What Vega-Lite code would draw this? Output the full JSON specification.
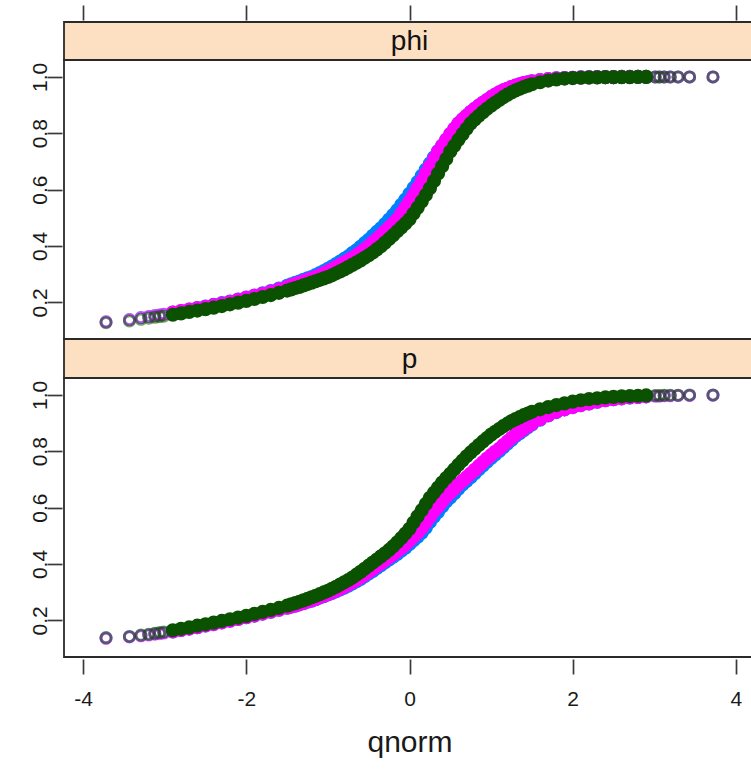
{
"$schema": "https://vega.github.io/schema/vega-lite/v6.json",
"padding": {"left": 28, "top": 3, "right": 0, "bottom": 0},
"spacing": 0,
"bounds": "flush",
"config": {
 "font": "Liberation Sans",
 "view": {"stroke": "#2a2a2a", "strokeWidth": 1.8},
 "axis": {"grid": false, "domain": false, "tickColor": "#3a3a3a", "tickWidth": 1.7, "tickSize": 15, "offset": 2, "labelColor": "#1a1a1a", "labelFontSize": 21, "labelFont": "Liberation Sans", "titleFont": "Liberation Sans", "titleFontWeight": "normal", "titleColor": "#1a1a1a"}
},
"resolve": {"scale": {"x": "independent", "y": "independent"}},
"datasets": {
"phi": [
{"g":1,"q":-3.719,"v":0.131},{"g":1,"q":-3.432,"v":0.139},{"g":1,"q":-3.291,"v":0.146},{"g":1,"q":-3.195,"v":0.15},{"g":1,"q":-3.121,"v":0.153},{"g":1,"q":-3.062,"v":0.155},{"g":1,"q":-3.011,"v":0.158},
{"g":1,"q":-2.9,"v":0.164},{"g":1,"q":-2.8,"v":0.169},{"g":1,"q":-2.7,"v":0.174},{"g":1,"q":-2.6,"v":0.18},{"g":1,"q":-2.5,"v":0.185},{"g":1,"q":-2.4,"v":0.191},{"g":1,"q":-2.3,"v":0.197},{"g":1,"q":-2.2,"v":0.203},{"g":1,"q":-2.1,"v":0.21},{"g":1,"q":-2.0,"v":0.217},{"g":1,"q":-1.9,"v":0.224},{"g":1,"q":-1.8,"v":0.232},{"g":1,"q":-1.7,"v":0.24},{"g":1,"q":-1.6,"v":0.249},
{"g":1,"q":-1.5,"v":0.259},{"g":1,"q":-1.45,"v":0.264},{"g":1,"q":-1.4,"v":0.269},{"g":1,"q":-1.35,"v":0.274},{"g":1,"q":-1.3,"v":0.28},{"g":1,"q":-1.25,"v":0.285},{"g":1,"q":-1.2,"v":0.29},{"g":1,"q":-1.15,"v":0.297},{"g":1,"q":-1.1,"v":0.304},{"g":1,"q":-1.05,"v":0.311},{"g":1,"q":-1.0,"v":0.319},{"g":1,"q":-0.95,"v":0.327},{"g":1,"q":-0.9,"v":0.336},{"g":1,"q":-0.85,"v":0.345},{"g":1,"q":-0.8,"v":0.354},{"g":1,"q":-0.75,"v":0.363},{"g":1,"q":-0.7,"v":0.375},{"g":1,"q":-0.65,"v":0.385},{"g":1,"q":-0.6,"v":0.397},{"g":1,"q":-0.55,"v":0.41},{"g":1,"q":-0.5,"v":0.422},{"g":1,"q":-0.45,"v":0.436},{"g":1,"q":-0.4,"v":0.45},{"g":1,"q":-0.35,"v":0.463},{"g":1,"q":-0.3,"v":0.478},{"g":1,"q":-0.25,"v":0.494},{"g":1,"q":-0.2,"v":0.51},{"g":1,"q":-0.15,"v":0.527},{"g":1,"q":-0.1,"v":0.546},{"g":1,"q":-0.05,"v":0.565},{"g":1,"q":0,"v":0.585},{"g":1,"q":0.05,"v":0.606},{"g":1,"q":0.1,"v":0.627},{"g":1,"q":0.15,"v":0.649},{"g":1,"q":0.2,"v":0.671},{"g":1,"q":0.25,"v":0.693},{"g":1,"q":0.3,"v":0.715},{"g":1,"q":0.35,"v":0.737},{"g":1,"q":0.4,"v":0.756},{"g":1,"q":0.45,"v":0.777},{"g":1,"q":0.5,"v":0.797},{"g":1,"q":0.55,"v":0.816},{"g":1,"q":0.6,"v":0.835},{"g":1,"q":0.65,"v":0.849},{"g":1,"q":0.7,"v":0.862},{"g":1,"q":0.75,"v":0.875},{"g":1,"q":0.8,"v":0.887},{"g":1,"q":0.85,"v":0.898},{"g":1,"q":0.9,"v":0.908},{"g":1,"q":0.95,"v":0.918},{"g":1,"q":1.0,"v":0.928},{"g":1,"q":1.05,"v":0.937},{"g":1,"q":1.1,"v":0.945},{"g":1,"q":1.15,"v":0.952},{"g":1,"q":1.2,"v":0.958},{"g":1,"q":1.25,"v":0.964},{"g":1,"q":1.3,"v":0.969},{"g":1,"q":1.35,"v":0.974},{"g":1,"q":1.4,"v":0.978},{"g":1,"q":1.45,"v":0.981},{"g":1,"q":1.5,"v":0.984},
{"g":1,"q":1.6,"v":0.989},{"g":1,"q":1.7,"v":0.992},{"g":1,"q":1.8,"v":0.995},{"g":1,"q":1.9,"v":0.996},{"g":1,"q":2.0,"v":0.997},{"g":1,"q":2.1,"v":0.998},{"g":1,"q":2.2,"v":0.998},{"g":1,"q":2.3,"v":0.999},{"g":1,"q":2.4,"v":0.999},{"g":1,"q":2.5,"v":0.999},{"g":1,"q":2.6,"v":1},{"g":1,"q":2.7,"v":1},{"g":1,"q":2.8,"v":1},{"g":1,"q":2.9,"v":1},
{"g":1,"q":3.011,"v":1},{"g":1,"q":3.062,"v":1},{"g":1,"q":3.121,"v":1},{"g":1,"q":3.195,"v":1},{"g":1,"q":3.291,"v":1},{"g":1,"q":3.432,"v":1},{"g":1,"q":3.719,"v":1},
{"g":2,"q":-3.719,"v":0.131},{"g":2,"q":-3.432,"v":0.139},{"g":2,"q":-3.291,"v":0.146},{"g":2,"q":-3.195,"v":0.15},{"g":2,"q":-3.121,"v":0.153},{"g":2,"q":-3.062,"v":0.155},{"g":2,"q":-3.011,"v":0.158},
{"g":2,"q":-2.9,"v":0.164},{"g":2,"q":-2.8,"v":0.169},{"g":2,"q":-2.7,"v":0.174},{"g":2,"q":-2.6,"v":0.179},{"g":2,"q":-2.5,"v":0.184},{"g":2,"q":-2.4,"v":0.19},{"g":2,"q":-2.3,"v":0.196},{"g":2,"q":-2.2,"v":0.202},{"g":2,"q":-2.1,"v":0.209},{"g":2,"q":-2.0,"v":0.216},{"g":2,"q":-1.9,"v":0.223},{"g":2,"q":-1.8,"v":0.23},{"g":2,"q":-1.7,"v":0.238},{"g":2,"q":-1.6,"v":0.246},
{"g":2,"q":-1.5,"v":0.255},{"g":2,"q":-1.45,"v":0.26},{"g":2,"q":-1.4,"v":0.265},{"g":2,"q":-1.35,"v":0.27},{"g":2,"q":-1.3,"v":0.275},{"g":2,"q":-1.25,"v":0.28},{"g":2,"q":-1.2,"v":0.285},{"g":2,"q":-1.15,"v":0.29},{"g":2,"q":-1.1,"v":0.296},{"g":2,"q":-1.05,"v":0.303},{"g":2,"q":-1.0,"v":0.31},{"g":2,"q":-0.95,"v":0.317},{"g":2,"q":-0.9,"v":0.325},{"g":2,"q":-0.85,"v":0.333},{"g":2,"q":-0.8,"v":0.341},{"g":2,"q":-0.75,"v":0.349},{"g":2,"q":-0.7,"v":0.358},{"g":2,"q":-0.65,"v":0.367},{"g":2,"q":-0.6,"v":0.377},{"g":2,"q":-0.55,"v":0.388},{"g":2,"q":-0.5,"v":0.399},{"g":2,"q":-0.45,"v":0.412},{"g":2,"q":-0.4,"v":0.425},{"g":2,"q":-0.35,"v":0.438},{"g":2,"q":-0.3,"v":0.452},{"g":2,"q":-0.25,"v":0.466},{"g":2,"q":-0.2,"v":0.48},{"g":2,"q":-0.15,"v":0.495},{"g":2,"q":-0.1,"v":0.515},{"g":2,"q":-0.05,"v":0.536},{"g":2,"q":0,"v":0.558},{"g":2,"q":0.05,"v":0.581},{"g":2,"q":0.1,"v":0.605},{"g":2,"q":0.15,"v":0.631},{"g":2,"q":0.2,"v":0.657},{"g":2,"q":0.25,"v":0.683},{"g":2,"q":0.3,"v":0.709},{"g":2,"q":0.35,"v":0.735},{"g":2,"q":0.4,"v":0.756},{"g":2,"q":0.45,"v":0.777},{"g":2,"q":0.5,"v":0.797},{"g":2,"q":0.55,"v":0.816},{"g":2,"q":0.6,"v":0.835},{"g":2,"q":0.65,"v":0.849},{"g":2,"q":0.7,"v":0.862},{"g":2,"q":0.75,"v":0.875},{"g":2,"q":0.8,"v":0.887},{"g":2,"q":0.85,"v":0.898},{"g":2,"q":0.9,"v":0.908},{"g":2,"q":0.95,"v":0.918},{"g":2,"q":1.0,"v":0.928},{"g":2,"q":1.05,"v":0.937},{"g":2,"q":1.1,"v":0.945},{"g":2,"q":1.15,"v":0.952},{"g":2,"q":1.2,"v":0.958},{"g":2,"q":1.25,"v":0.964},{"g":2,"q":1.3,"v":0.969},{"g":2,"q":1.35,"v":0.974},{"g":2,"q":1.4,"v":0.978},{"g":2,"q":1.45,"v":0.981},{"g":2,"q":1.5,"v":0.984},
{"g":2,"q":1.6,"v":0.989},{"g":2,"q":1.7,"v":0.992},{"g":2,"q":1.8,"v":0.995},{"g":2,"q":1.9,"v":0.996},{"g":2,"q":2.0,"v":0.997},{"g":2,"q":2.1,"v":0.998},{"g":2,"q":2.2,"v":0.998},{"g":2,"q":2.3,"v":0.999},{"g":2,"q":2.4,"v":0.999},{"g":2,"q":2.5,"v":0.999},{"g":2,"q":2.6,"v":1},{"g":2,"q":2.7,"v":1},{"g":2,"q":2.8,"v":1},{"g":2,"q":2.9,"v":1},
{"g":2,"q":3.011,"v":1},{"g":2,"q":3.062,"v":1},{"g":2,"q":3.121,"v":1},{"g":2,"q":3.195,"v":1},{"g":2,"q":3.291,"v":1},{"g":2,"q":3.432,"v":1},{"g":2,"q":3.719,"v":1},
{"g":3,"q":-3.719,"v":0.128},{"g":3,"q":-3.432,"v":0.134},{"g":3,"q":-3.291,"v":0.14},{"g":3,"q":-3.195,"v":0.144},{"g":3,"q":-3.121,"v":0.147},{"g":3,"q":-3.062,"v":0.149},{"g":3,"q":-3.011,"v":0.151},
{"g":3,"q":-2.9,"v":0.156},{"g":3,"q":-2.8,"v":0.161},{"g":3,"q":-2.7,"v":0.166},{"g":3,"q":-2.6,"v":0.171},{"g":3,"q":-2.5,"v":0.176},{"g":3,"q":-2.4,"v":0.181},{"g":3,"q":-2.3,"v":0.187},{"g":3,"q":-2.2,"v":0.193},{"g":3,"q":-2.1,"v":0.199},{"g":3,"q":-2.0,"v":0.205},{"g":3,"q":-1.9,"v":0.212},{"g":3,"q":-1.8,"v":0.219},{"g":3,"q":-1.7,"v":0.226},{"g":3,"q":-1.6,"v":0.234},
{"g":3,"q":-1.5,"v":0.242},{"g":3,"q":-1.45,"v":0.246},{"g":3,"q":-1.4,"v":0.251},{"g":3,"q":-1.35,"v":0.255},{"g":3,"q":-1.3,"v":0.26},{"g":3,"q":-1.25,"v":0.265},{"g":3,"q":-1.2,"v":0.27},{"g":3,"q":-1.15,"v":0.275},{"g":3,"q":-1.1,"v":0.28},{"g":3,"q":-1.05,"v":0.285},{"g":3,"q":-1.0,"v":0.29},{"g":3,"q":-0.95,"v":0.296},{"g":3,"q":-0.9,"v":0.303},{"g":3,"q":-0.85,"v":0.31},{"g":3,"q":-0.8,"v":0.317},{"g":3,"q":-0.75,"v":0.325},{"g":3,"q":-0.7,"v":0.333},{"g":3,"q":-0.65,"v":0.341},{"g":3,"q":-0.6,"v":0.349},{"g":3,"q":-0.55,"v":0.358},{"g":3,"q":-0.5,"v":0.367},{"g":3,"q":-0.45,"v":0.377},{"g":3,"q":-0.4,"v":0.388},{"g":3,"q":-0.35,"v":0.399},{"g":3,"q":-0.3,"v":0.412},{"g":3,"q":-0.25,"v":0.425},{"g":3,"q":-0.2,"v":0.438},{"g":3,"q":-0.15,"v":0.452},{"g":3,"q":-0.1,"v":0.466},{"g":3,"q":-0.05,"v":0.48},{"g":3,"q":0,"v":0.495},{"g":3,"q":0.05,"v":0.515},{"g":3,"q":0.1,"v":0.536},{"g":3,"q":0.15,"v":0.558},{"g":3,"q":0.2,"v":0.581},{"g":3,"q":0.25,"v":0.605},{"g":3,"q":0.3,"v":0.631},{"g":3,"q":0.35,"v":0.657},{"g":3,"q":0.4,"v":0.683},{"g":3,"q":0.45,"v":0.709},{"g":3,"q":0.5,"v":0.735},{"g":3,"q":0.55,"v":0.756},{"g":3,"q":0.6,"v":0.777},{"g":3,"q":0.65,"v":0.797},{"g":3,"q":0.7,"v":0.816},{"g":3,"q":0.75,"v":0.835},{"g":3,"q":0.8,"v":0.849},{"g":3,"q":0.85,"v":0.862},{"g":3,"q":0.9,"v":0.875},{"g":3,"q":0.95,"v":0.887},{"g":3,"q":1.0,"v":0.898},{"g":3,"q":1.05,"v":0.908},{"g":3,"q":1.1,"v":0.918},{"g":3,"q":1.15,"v":0.928},{"g":3,"q":1.2,"v":0.937},{"g":3,"q":1.25,"v":0.945},{"g":3,"q":1.3,"v":0.952},{"g":3,"q":1.35,"v":0.958},{"g":3,"q":1.4,"v":0.964},{"g":3,"q":1.45,"v":0.969},{"g":3,"q":1.5,"v":0.974},
{"g":3,"q":1.6,"v":0.981},{"g":3,"q":1.7,"v":0.987},{"g":3,"q":1.8,"v":0.991},{"g":3,"q":1.9,"v":0.994},{"g":3,"q":2.0,"v":0.996},{"g":3,"q":2.1,"v":0.997},{"g":3,"q":2.2,"v":0.998},{"g":3,"q":2.3,"v":0.998},{"g":3,"q":2.4,"v":0.999},{"g":3,"q":2.5,"v":0.999},{"g":3,"q":2.6,"v":0.999},{"g":3,"q":2.7,"v":0.999},{"g":3,"q":2.8,"v":1},{"g":3,"q":2.9,"v":1},
{"g":3,"q":3.011,"v":1},{"g":3,"q":3.062,"v":1},{"g":3,"q":3.121,"v":1},{"g":3,"q":3.195,"v":1},{"g":3,"q":3.291,"v":1},{"g":3,"q":3.432,"v":1},{"g":3,"q":3.719,"v":1}
],
"p": [
{"g":1,"q":-3.719,"v":0.137},{"g":1,"q":-3.432,"v":0.142},{"g":1,"q":-3.291,"v":0.146},{"g":1,"q":-3.195,"v":0.149},{"g":1,"q":-3.121,"v":0.152},{"g":1,"q":-3.062,"v":0.154},{"g":1,"q":-3.011,"v":0.156},
{"g":1,"q":-2.9,"v":0.161},{"g":1,"q":-2.8,"v":0.166},{"g":1,"q":-2.7,"v":0.171},{"g":1,"q":-2.6,"v":0.176},{"g":1,"q":-2.5,"v":0.182},{"g":1,"q":-2.4,"v":0.187},{"g":1,"q":-2.3,"v":0.193},{"g":1,"q":-2.2,"v":0.199},{"g":1,"q":-2.1,"v":0.205},{"g":1,"q":-2.0,"v":0.211},{"g":1,"q":-1.9,"v":0.217},{"g":1,"q":-1.8,"v":0.224},{"g":1,"q":-1.7,"v":0.231},{"g":1,"q":-1.6,"v":0.238},
{"g":1,"q":-1.5,"v":0.245},{"g":1,"q":-1.45,"v":0.249},{"g":1,"q":-1.4,"v":0.252},{"g":1,"q":-1.35,"v":0.257},{"g":1,"q":-1.3,"v":0.261},{"g":1,"q":-1.25,"v":0.266},{"g":1,"q":-1.2,"v":0.27},{"g":1,"q":-1.15,"v":0.275},{"g":1,"q":-1.1,"v":0.281},{"g":1,"q":-1.05,"v":0.286},{"g":1,"q":-1.0,"v":0.292},{"g":1,"q":-0.95,"v":0.297},{"g":1,"q":-0.9,"v":0.303},{"g":1,"q":-0.85,"v":0.31},{"g":1,"q":-0.8,"v":0.316},{"g":1,"q":-0.75,"v":0.323},{"g":1,"q":-0.7,"v":0.331},{"g":1,"q":-0.65,"v":0.339},{"g":1,"q":-0.6,"v":0.347},{"g":1,"q":-0.55,"v":0.357},{"g":1,"q":-0.5,"v":0.366},{"g":1,"q":-0.45,"v":0.375},{"g":1,"q":-0.4,"v":0.386},{"g":1,"q":-0.35,"v":0.396},{"g":1,"q":-0.3,"v":0.406},{"g":1,"q":-0.25,"v":0.416},{"g":1,"q":-0.2,"v":0.426},{"g":1,"q":-0.15,"v":0.436},{"g":1,"q":-0.1,"v":0.447},{"g":1,"q":-0.05,"v":0.458},{"g":1,"q":0,"v":0.471},{"g":1,"q":0.05,"v":0.484},{"g":1,"q":0.1,"v":0.497},{"g":1,"q":0.15,"v":0.511},{"g":1,"q":0.2,"v":0.529},{"g":1,"q":0.25,"v":0.549},{"g":1,"q":0.3,"v":0.568},{"g":1,"q":0.35,"v":0.585},{"g":1,"q":0.4,"v":0.604},{"g":1,"q":0.45,"v":0.622},{"g":1,"q":0.5,"v":0.636},{"g":1,"q":0.55,"v":0.651},{"g":1,"q":0.6,"v":0.667},{"g":1,"q":0.65,"v":0.682},{"g":1,"q":0.7,"v":0.695},{"g":1,"q":0.75,"v":0.708},{"g":1,"q":0.8,"v":0.722},{"g":1,"q":0.85,"v":0.736},{"g":1,"q":0.9,"v":0.75},{"g":1,"q":0.95,"v":0.763},{"g":1,"q":1.0,"v":0.776},{"g":1,"q":1.05,"v":0.789},{"g":1,"q":1.1,"v":0.801},{"g":1,"q":1.15,"v":0.814},{"g":1,"q":1.2,"v":0.828},{"g":1,"q":1.25,"v":0.84},{"g":1,"q":1.3,"v":0.854},{"g":1,"q":1.35,"v":0.864},{"g":1,"q":1.4,"v":0.875},{"g":1,"q":1.45,"v":0.885},{"g":1,"q":1.5,"v":0.895},
{"g":1,"q":1.6,"v":0.912},{"g":1,"q":1.7,"v":0.927},{"g":1,"q":1.8,"v":0.939},{"g":1,"q":1.9,"v":0.949},{"g":1,"q":2.0,"v":0.957},{"g":1,"q":2.1,"v":0.964},{"g":1,"q":2.2,"v":0.97},{"g":1,"q":2.3,"v":0.976},{"g":1,"q":2.4,"v":0.981},{"g":1,"q":2.5,"v":0.985},{"g":1,"q":2.6,"v":0.988},{"g":1,"q":2.7,"v":0.991},{"g":1,"q":2.8,"v":0.993},{"g":1,"q":2.9,"v":0.995},
{"g":1,"q":3.011,"v":0.996},{"g":1,"q":3.062,"v":0.996},{"g":1,"q":3.121,"v":0.997},{"g":1,"q":3.195,"v":0.997},{"g":1,"q":3.291,"v":0.998},{"g":1,"q":3.432,"v":0.998},{"g":1,"q":3.719,"v":0.999},
{"g":2,"q":-3.719,"v":0.136},{"g":2,"q":-3.432,"v":0.141},{"g":2,"q":-3.291,"v":0.145},{"g":2,"q":-3.195,"v":0.148},{"g":2,"q":-3.121,"v":0.151},{"g":2,"q":-3.062,"v":0.153},{"g":2,"q":-3.011,"v":0.155},
{"g":2,"q":-2.9,"v":0.161},{"g":2,"q":-2.8,"v":0.166},{"g":2,"q":-2.7,"v":0.171},{"g":2,"q":-2.6,"v":0.176},{"g":2,"q":-2.5,"v":0.182},{"g":2,"q":-2.4,"v":0.187},{"g":2,"q":-2.3,"v":0.193},{"g":2,"q":-2.2,"v":0.199},{"g":2,"q":-2.1,"v":0.205},{"g":2,"q":-2.0,"v":0.211},{"g":2,"q":-1.9,"v":0.217},{"g":2,"q":-1.8,"v":0.224},{"g":2,"q":-1.7,"v":0.231},{"g":2,"q":-1.6,"v":0.238},
{"g":2,"q":-1.5,"v":0.245},{"g":2,"q":-1.45,"v":0.249},{"g":2,"q":-1.4,"v":0.253},{"g":2,"q":-1.35,"v":0.257},{"g":2,"q":-1.3,"v":0.262},{"g":2,"q":-1.25,"v":0.267},{"g":2,"q":-1.2,"v":0.271},{"g":2,"q":-1.15,"v":0.276},{"g":2,"q":-1.1,"v":0.282},{"g":2,"q":-1.05,"v":0.287},{"g":2,"q":-1.0,"v":0.293},{"g":2,"q":-0.95,"v":0.299},{"g":2,"q":-0.9,"v":0.305},{"g":2,"q":-0.85,"v":0.312},{"g":2,"q":-0.8,"v":0.319},{"g":2,"q":-0.75,"v":0.327},{"g":2,"q":-0.7,"v":0.335},{"g":2,"q":-0.65,"v":0.343},{"g":2,"q":-0.6,"v":0.352},{"g":2,"q":-0.55,"v":0.362},{"g":2,"q":-0.5,"v":0.372},{"g":2,"q":-0.45,"v":0.382},{"g":2,"q":-0.4,"v":0.393},{"g":2,"q":-0.35,"v":0.403},{"g":2,"q":-0.3,"v":0.413},{"g":2,"q":-0.25,"v":0.424},{"g":2,"q":-0.2,"v":0.434},{"g":2,"q":-0.15,"v":0.445},{"g":2,"q":-0.1,"v":0.457},{"g":2,"q":-0.05,"v":0.469},{"g":2,"q":0,"v":0.483},{"g":2,"q":0.05,"v":0.497},{"g":2,"q":0.1,"v":0.511},{"g":2,"q":0.15,"v":0.527},{"g":2,"q":0.2,"v":0.547},{"g":2,"q":0.25,"v":0.567},{"g":2,"q":0.3,"v":0.587},{"g":2,"q":0.35,"v":0.604},{"g":2,"q":0.4,"v":0.622},{"g":2,"q":0.45,"v":0.639},{"g":2,"q":0.5,"v":0.653},{"g":2,"q":0.55,"v":0.667},{"g":2,"q":0.6,"v":0.682},{"g":2,"q":0.65,"v":0.695},{"g":2,"q":0.7,"v":0.708},{"g":2,"q":0.75,"v":0.721},{"g":2,"q":0.8,"v":0.734},{"g":2,"q":0.85,"v":0.748},{"g":2,"q":0.9,"v":0.761},{"g":2,"q":0.95,"v":0.774},{"g":2,"q":1.0,"v":0.786},{"g":2,"q":1.05,"v":0.798},{"g":2,"q":1.1,"v":0.809},{"g":2,"q":1.15,"v":0.822},{"g":2,"q":1.2,"v":0.835},{"g":2,"q":1.25,"v":0.847},{"g":2,"q":1.3,"v":0.859},{"g":2,"q":1.35,"v":0.869},{"g":2,"q":1.4,"v":0.879},{"g":2,"q":1.45,"v":0.889},{"g":2,"q":1.5,"v":0.898},
{"g":2,"q":1.6,"v":0.914},{"g":2,"q":1.7,"v":0.928},{"g":2,"q":1.8,"v":0.94},{"g":2,"q":1.9,"v":0.949},{"g":2,"q":2.0,"v":0.957},{"g":2,"q":2.1,"v":0.964},{"g":2,"q":2.2,"v":0.97},{"g":2,"q":2.3,"v":0.976},{"g":2,"q":2.4,"v":0.981},{"g":2,"q":2.5,"v":0.985},{"g":2,"q":2.6,"v":0.988},{"g":2,"q":2.7,"v":0.991},{"g":2,"q":2.8,"v":0.993},{"g":2,"q":2.9,"v":0.995},
{"g":2,"q":3.011,"v":0.996},{"g":2,"q":3.062,"v":0.996},{"g":2,"q":3.121,"v":0.997},{"g":2,"q":3.195,"v":0.997},{"g":2,"q":3.291,"v":0.998},{"g":2,"q":3.432,"v":0.998},{"g":2,"q":3.719,"v":0.999},
{"g":3,"q":-3.719,"v":0.139},{"g":3,"q":-3.432,"v":0.143},{"g":3,"q":-3.291,"v":0.148},{"g":3,"q":-3.195,"v":0.151},{"g":3,"q":-3.121,"v":0.154},{"g":3,"q":-3.062,"v":0.157},{"g":3,"q":-3.011,"v":0.159},
{"g":3,"q":-2.9,"v":0.165},{"g":3,"q":-2.8,"v":0.17},{"g":3,"q":-2.7,"v":0.175},{"g":3,"q":-2.6,"v":0.181},{"g":3,"q":-2.5,"v":0.186},{"g":3,"q":-2.4,"v":0.192},{"g":3,"q":-2.3,"v":0.198},{"g":3,"q":-2.2,"v":0.204},{"g":3,"q":-2.1,"v":0.21},{"g":3,"q":-2.0,"v":0.216},{"g":3,"q":-1.9,"v":0.223},{"g":3,"q":-1.8,"v":0.23},{"g":3,"q":-1.7,"v":0.237},{"g":3,"q":-1.6,"v":0.244},
{"g":3,"q":-1.5,"v":0.252},{"g":3,"q":-1.45,"v":0.257},{"g":3,"q":-1.4,"v":0.261},{"g":3,"q":-1.35,"v":0.266},{"g":3,"q":-1.3,"v":0.271},{"g":3,"q":-1.25,"v":0.276},{"g":3,"q":-1.2,"v":0.282},{"g":3,"q":-1.15,"v":0.287},{"g":3,"q":-1.1,"v":0.293},{"g":3,"q":-1.05,"v":0.299},{"g":3,"q":-1.0,"v":0.305},{"g":3,"q":-0.95,"v":0.312},{"g":3,"q":-0.9,"v":0.319},{"g":3,"q":-0.85,"v":0.327},{"g":3,"q":-0.8,"v":0.335},{"g":3,"q":-0.75,"v":0.343},{"g":3,"q":-0.7,"v":0.352},{"g":3,"q":-0.65,"v":0.362},{"g":3,"q":-0.6,"v":0.372},{"g":3,"q":-0.55,"v":0.383},{"g":3,"q":-0.5,"v":0.394},{"g":3,"q":-0.45,"v":0.405},{"g":3,"q":-0.4,"v":0.416},{"g":3,"q":-0.35,"v":0.427},{"g":3,"q":-0.3,"v":0.438},{"g":3,"q":-0.25,"v":0.45},{"g":3,"q":-0.2,"v":0.463},{"g":3,"q":-0.15,"v":0.477},{"g":3,"q":-0.1,"v":0.492},{"g":3,"q":-0.05,"v":0.508},{"g":3,"q":0,"v":0.525},{"g":3,"q":0.05,"v":0.547},{"g":3,"q":0.1,"v":0.569},{"g":3,"q":0.15,"v":0.591},{"g":3,"q":0.2,"v":0.613},{"g":3,"q":0.25,"v":0.635},{"g":3,"q":0.3,"v":0.653},{"g":3,"q":0.35,"v":0.671},{"g":3,"q":0.4,"v":0.689},{"g":3,"q":0.45,"v":0.705},{"g":3,"q":0.5,"v":0.72},{"g":3,"q":0.55,"v":0.736},{"g":3,"q":0.6,"v":0.752},{"g":3,"q":0.65,"v":0.767},{"g":3,"q":0.7,"v":0.782},{"g":3,"q":0.75,"v":0.796},{"g":3,"q":0.8,"v":0.809},{"g":3,"q":0.85,"v":0.822},{"g":3,"q":0.9,"v":0.835},{"g":3,"q":0.95,"v":0.847},{"g":3,"q":1.0,"v":0.859},{"g":3,"q":1.05,"v":0.869},{"g":3,"q":1.1,"v":0.879},{"g":3,"q":1.15,"v":0.889},{"g":3,"q":1.2,"v":0.898},{"g":3,"q":1.25,"v":0.907},{"g":3,"q":1.3,"v":0.914},{"g":3,"q":1.35,"v":0.921},{"g":3,"q":1.4,"v":0.928},{"g":3,"q":1.45,"v":0.934},{"g":3,"q":1.5,"v":0.94},
{"g":3,"q":1.6,"v":0.949},{"g":3,"q":1.7,"v":0.957},{"g":3,"q":1.8,"v":0.964},{"g":3,"q":1.9,"v":0.97},{"g":3,"q":2.0,"v":0.976},{"g":3,"q":2.1,"v":0.981},{"g":3,"q":2.2,"v":0.985},{"g":3,"q":2.3,"v":0.988},{"g":3,"q":2.4,"v":0.991},{"g":3,"q":2.5,"v":0.993},{"g":3,"q":2.6,"v":0.995},{"g":3,"q":2.7,"v":0.996},{"g":3,"q":2.8,"v":0.997},{"g":3,"q":2.9,"v":0.998},
{"g":3,"q":3.011,"v":0.998},{"g":3,"q":3.062,"v":0.998},{"g":3,"q":3.121,"v":0.999},{"g":3,"q":3.195,"v":0.999},{"g":3,"q":3.291,"v":0.999},{"g":3,"q":3.432,"v":1},{"g":3,"q":3.719,"v":1}
]
},
"vconcat": [
{
 "width": 691, "height": 38,
 "view": {"fill": "#fddfc2"},
 "data": {"values": [{"f": "phi"}]},
 "mark": {"type": "text", "fontSize": 28, "font": "Liberation Sans", "color": "#111111", "baseline": "middle", "dy": 1},
 "encoding": {
  "x": {"datum": 0, "type": "quantitative", "scale": {"domain": [-4.234, 4.234], "nice": false, "zero": false}, "axis": {"orient": "top", "labels": false, "title": null, "values": [-4, -2, 0, 2, 4]}},
  "text": {"field": "f", "type": "nominal"}
 }
},
{
 "width": 691, "height": 279,
 "data": {"name": "phi"},
 "mark": {"type": "point", "shape": "circle", "strokeWidth": 2.8, "filled": true, "opacity": 1},
 "encoding": {
  "x": {"field": "q", "type": "quantitative", "scale": {"domain": [-4.234, 4.234], "nice": false, "zero": false}, "axis": null},
  "y": {"field": "v", "type": "quantitative", "scale": {"domain": [0.07, 1.06], "nice": false, "zero": false}, "axis": {"values": [0.2, 0.4, 0.6, 0.8, 1.0], "format": ".1f", "labelAngle": -90, "labelAlign": "center", "labelBaseline": "alphabetic", "labelPadding": 1, "title": null}},
  "fill": {"field": "g", "type": "nominal", "scale": {"domain": [1, 2, 3], "range": ["#0080ff", "#ff00ff", "#0a5200"]}, "legend": null},
  "stroke": {"field": "g", "type": "nominal", "scale": {"domain": [1, 2, 3], "range": ["#0080ff", "#ff00ff", "#0a5200"]}, "legend": null},
  "size": {"condition": {"test": "abs(datum.q) < 3", "value": 130}, "value": 105},
  "fillOpacity": {"condition": {"test": "abs(datum.q) < 3", "value": 1}, "value": 0},
  "strokeOpacity": {"condition": {"test": "abs(datum.q) < 3", "value": 1}, "value": 0.55}
 }
},
{
 "width": 691, "height": 39,
 "view": {"fill": "#fddfc2"},
 "data": {"values": [{"f": "p"}]},
 "mark": {"type": "text", "fontSize": 28, "font": "Liberation Sans", "color": "#111111", "baseline": "middle", "dy": 1},
 "encoding": {
  "x": {"datum": 0, "type": "quantitative", "scale": {"domain": [-4.234, 4.234], "nice": false, "zero": false}, "axis": null},
  "text": {"field": "f", "type": "nominal"}
 }
},
{
 "width": 691, "height": 279,
 "data": {"name": "p"},
 "mark": {"type": "point", "shape": "circle", "strokeWidth": 2.8, "filled": true, "opacity": 1},
 "encoding": {
  "x": {"field": "q", "type": "quantitative", "scale": {"domain": [-4.234, 4.234], "nice": false, "zero": false}, "axis": {"values": [-4, -2, 0, 2, 4], "labelExpr": "datum.value", "title": "qnorm", "titleFontSize": 30, "titlePadding": 18, "labelPadding": 14, "labelFlush": false}},
  "y": {"field": "v", "type": "quantitative", "scale": {"domain": [0.07, 1.06], "nice": false, "zero": false}, "axis": {"values": [0.2, 0.4, 0.6, 0.8, 1.0], "format": ".1f", "labelAngle": -90, "labelAlign": "center", "labelBaseline": "alphabetic", "labelPadding": 1, "title": null}},
  "fill": {"field": "g", "type": "nominal", "scale": {"domain": [1, 2, 3], "range": ["#0080ff", "#ff00ff", "#0a5200"]}, "legend": null},
  "stroke": {"field": "g", "type": "nominal", "scale": {"domain": [1, 2, 3], "range": ["#0080ff", "#ff00ff", "#0a5200"]}, "legend": null},
  "size": {"condition": {"test": "abs(datum.q) < 3", "value": 130}, "value": 105},
  "fillOpacity": {"condition": {"test": "abs(datum.q) < 3", "value": 1}, "value": 0},
  "strokeOpacity": {"condition": {"test": "abs(datum.q) < 3", "value": 1}, "value": 0.55}
 }
}
]
}
